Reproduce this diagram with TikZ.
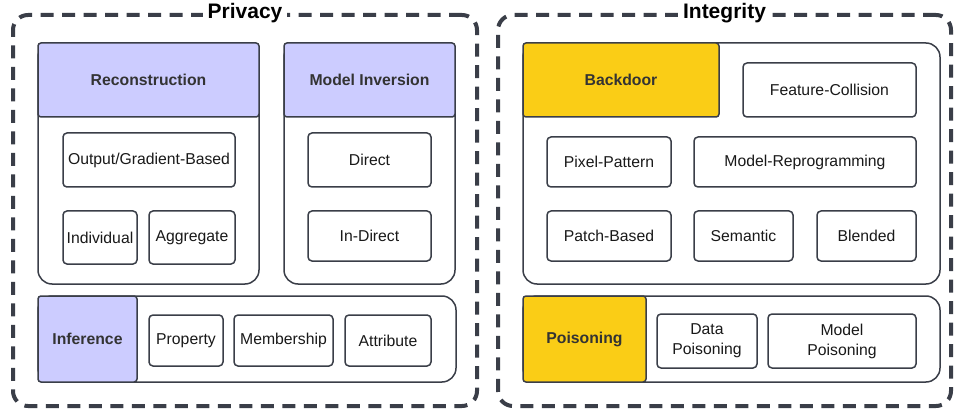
\documentclass[tikz,border=0pt]{standalone}
\usepackage{fontspec}
\setmainfont{Liberation Sans}
\usepackage{tikz}
\usetikzlibrary{shapes}

\definecolor{edgegray}{RGB}{58,62,72}
\definecolor{lavender}{RGB}{204,204,255}
\definecolor{gold}{RGB}{250,205,22}

\begin{document}
\begin{tikzpicture}[x=1pt,y=-1pt]
  \tikzstyle{frame}=[rectangle,draw=edgegray,line width=4pt,dash pattern=on 13pt off 8.5pt,
        rounded corners=15pt]
  \tikzstyle{title}=[fill=white,inner xsep=5pt,inner ysep=0pt,text=black,
        font=\fontsize{21}{24}\selectfont\bfseries]
  \tikzstyle{group}=[rectangle,draw=edgegray,line width=1.5pt,fill=white,rounded corners=14pt]
  \tikzstyle{head}=[rectangle,draw=edgegray,line width=1.5pt,rounded corners=3pt,
        text=black!80,font=\fontsize{15.75}{20}\selectfont\bfseries]
  \tikzstyle{leaf}=[rectangle,draw=edgegray,line width=1.5pt,fill=white,rounded corners=4pt,
        align=center,inner sep=0pt,text=black!90,font=\fontsize{15.75}{20}\selectfont]
  \useasboundingbox (0,0) rectangle (954,409);

  % outer frames
  \node [frame,minimum width=464pt,minimum height=391pt] (privacy) at (245,210.5) {};
  \node [frame,minimum width=453pt,minimum height=391pt] (integrity) at (724.5,210.5) {};
  \node [title] (privacyt) at (privacy.north) {Privacy};
  \node [title] (integrityt) at (integrity.north) {Integrity};

  % privacy
  \node [group,minimum width=221pt,minimum height=241pt] (recgrp) at (148.5,163.5) {};
  \node [head,fill=lavender,minimum width=221pt,minimum height=74pt] (rec) at (148.5,80) {Reconstruction};
  \node [leaf,minimum width=172pt,minimum height=54pt] (ogb) at (149,160) {Output/Gradient-Based};
  \node [leaf,minimum width=74pt,minimum height=53pt] (indiv) at (100,237.5) {Individual};
  \node [leaf,minimum width=86pt,minimum height=53pt] (aggr) at (192,237.5) {Aggregate};

  \node [group,minimum width=171pt,minimum height=241pt] (invgrp) at (369.5,163.5) {};
  \node [head,fill=lavender,minimum width=171pt,minimum height=74pt] (inv) at (369.5,80) {Model Inversion};
  \node [leaf,minimum width=123pt,minimum height=54pt] (direct) at (369.5,160) {Direct};
  \node [leaf,minimum width=123pt,minimum height=50pt] (indirect) at (369.5,236) {In-Direct};

  \node [group,minimum width=418pt,minimum height=86pt] (infgrp) at (247,339) {};
  \node [head,fill=lavender,minimum width=99pt,minimum height=86pt] (inf) at (87.5,339) {Inference};
  \node [leaf,minimum width=74pt,minimum height=51pt] (prop) at (186,340.5) {Property};
  \node [leaf,minimum width=99pt,minimum height=51pt] (memb) at (283.5,340.5) {Membership};
  \node [leaf,minimum width=86pt,minimum height=51pt] (attr) at (388,340.5) {Attribute};

  % integrity
  \node [group,minimum width=417pt,minimum height=241pt] (bdgrp) at (731.5,163.5) {};
  \node [head,fill=gold,minimum width=196pt,minimum height=74pt] (bd) at (621,80) {Backdoor};
  \node [leaf,minimum width=173pt,minimum height=54pt] (featcol) at (829.5,90) {Feature-Collision};
  \node [leaf,minimum width=124pt,minimum height=50pt] (pixel) at (609,162) {Pixel-Pattern};
  \node [leaf,minimum width=222pt,minimum height=50pt] (reprog) at (805,162) {Model-Reprogramming};
  \node [leaf,minimum width=124pt,minimum height=50pt] (patch) at (609,236) {Patch-Based};
  \node [leaf,minimum width=99pt,minimum height=50pt] (sem) at (743.5,236) {Semantic};
  \node [leaf,minimum width=99pt,minimum height=50pt] (blend) at (866.5,236) {Blended};

  \node [group,minimum width=417pt,minimum height=86pt] (poigrp) at (731.5,339) {};
  \node [head,fill=gold,minimum width=123pt,minimum height=86pt] (poi) at (584.5,339) {Poisoning};
  \node [leaf,minimum width=100pt,minimum height=54pt] (datapoi) at (707,341) {Data\\Poisoning};
  \node [leaf,minimum width=148pt,minimum height=54pt] (modpoi) at (842,341) {Model\\Poisoning};

\end{tikzpicture}
\end{document}
